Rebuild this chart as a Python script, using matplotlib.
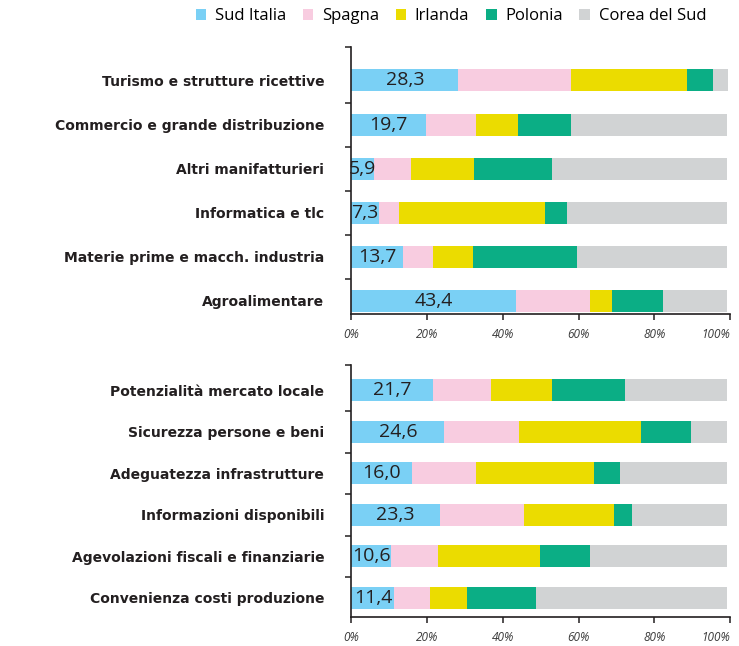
import numpy as np
import matplotlib
matplotlib.use("Agg")
import matplotlib.pyplot as plt

# series names and colours
names = ["Sud Italia", "Spagna", "Irlanda", "Polonia", "Corea del Sud"]
colors = ["#7ad0f5", "#f8cce0", "#ebdc00", "#0bae85", "#d1d3d4"]

# top panel: sectors
sectors = ["Turismo e strutture ricettive", "Commercio e grande distribuzione",
           "Altri manifatturieri", "Informatica e tlc",
           "Materie prime e macch. industria", "Agroalimentare"]
sec_sud = [28.3, 19.7, 5.9, 7.3, 13.7, 43.4]
sec_spagna = [29.6, 13.2, 9.8, 5.2, 7.8, 19.6]
sec_irlanda = [30.7, 11.1, 16.7, 38.6, 10.6, 5.8]
sec_polonia = [6.8, 14.0, 20.5, 5.8, 27.5, 13.5]
sec_corea = [4.0, 41.1, 46.2, 42.2, 39.5, 16.8]

# bottom panel: location factors
factors = ["Potenzialità mercato locale", "Sicurezza persone e beni",
           "Adeguatezza infrastrutture", "Informazioni disponibili",
           "Agevolazioni fiscali e finanziarie", "Convenienza costi produzione"]
fac_sud = [21.7, 24.6, 16.0, 23.3, 10.6, 11.4]
fac_spagna = [15.2, 19.7, 16.9, 22.3, 12.3, 9.3]
fac_irlanda = [16.0, 32.2, 31.2, 23.8, 26.9, 9.8]
fac_polonia = [19.4, 13.2, 6.8, 4.7, 13.2, 18.2]
fac_corea = [26.8, 9.4, 28.2, 25.0, 36.1, 50.4]

xticks = [0, 20, 40, 60, 80, 100]
xtick_labels = ["0%", "20%", "40%", "60%", "80%", "100%"]

dark = "#231f20"


def draw_panel(ax, labels, series, bar_h, ylim):
    y = np.arange(len(labels))
    left = np.zeros(len(labels))
    for vals, col, name in zip(series, colors, names):
        vals = np.array(vals)
        ax.barh(y, vals, left=left, height=bar_h, color=col, label=name, linewidth=0)
        left += vals
    for yi, v in zip(y, series[0]):
        ax.text(v / 2, yi, f"{v:.1f}".replace(".", ","), ha="center", va="center",
                fontsize=14, family="Open Sans", color=dark)

    ax.set_xlim(0, 100)
    ax.set_ylim(*ylim)
    ax.set_yticks(y)
    ax.set_yticklabels(labels, fontweight="bold", fontsize=10, color=dark)
    ax.tick_params(axis="y", which="major", length=0, pad=19.5)
    ax.set_yticks([ylim[1]] + list(y[:-1] + 0.5), minor=True)
    ax.tick_params(axis="y", which="minor", length=4, width=1.1, color=dark, direction="out")

    ax.set_xticks(xticks)
    ax.set_xticklabels(xtick_labels, style="italic", fontsize=8.5, family="Open Sans", color="#3a3a3a")
    ax.get_xticklabels()[-1].set_horizontalalignment("right")
    ax.tick_params(axis="x", length=4, width=1.1, color=dark, pad=6)

    for s in ["top", "right"]:
        ax.spines[s].set_visible(False)
    for s in ["left", "bottom"]:
        ax.spines[s].set_linewidth(1.2)
        ax.spines[s].set_color(dark)


fig = plt.figure(figsize=(7.39, 6.46), dpi=100)
ax_top = fig.add_axes([0.4754, 0.5135, 0.5124, 0.4137])
ax_bot = fig.add_axes([0.4754, 0.0449, 0.5124, 0.3901])

draw_panel(ax_top, sectors, [sec_sud, sec_spagna, sec_irlanda, sec_polonia, sec_corea],
           0.5, (5.31, -0.76))
draw_panel(ax_bot, factors, [fac_sud, fac_spagna, fac_irlanda, fac_polonia, fac_corea],
           0.53, (5.46, -0.61))

handles, lbls = ax_top.get_legend_handles_labels()
fig.legend(handles, lbls, loc="center", bbox_to_anchor=(0.61, 0.975), ncol=5,
           frameon=False, handlelength=0.65, handleheight=0.65, handletextpad=0.5,
           columnspacing=1.0, prop={"family": "Open Sans", "size": 12})

fig.savefig("out.png", dpi=100)
